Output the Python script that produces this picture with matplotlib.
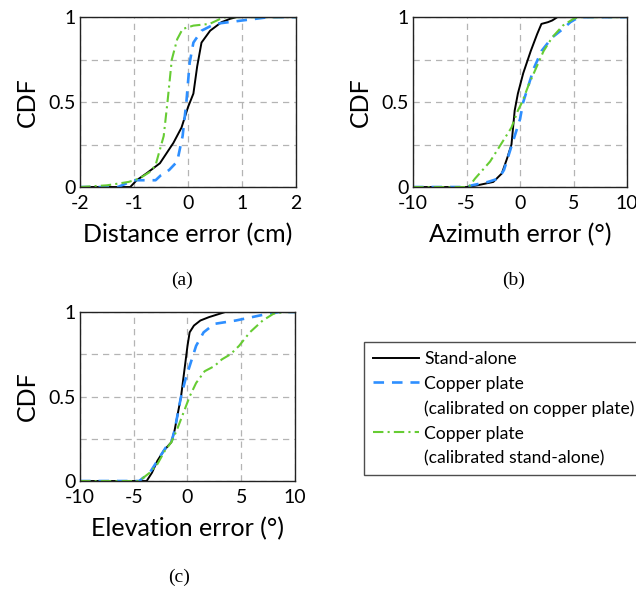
import matplotlib
matplotlib.use("Agg")
import matplotlib.pyplot as plt
from matplotlib.lines import Line2D
from matplotlib.ticker import MultipleLocator, FuncFormatter

plt.rcParams['font.family'] = ['Lato', 'DejaVu Sans']

# (a) distance error, cm
dist_alone_x = [-2.0, -1.07, -0.95, -0.77, -0.52, -0.27, -0.12, 0.0, 0.1, 0.17, 0.25, 0.41, 0.62, 0.78, 0.9, 2.0]
dist_alone_y = [0.0, 0.0, 0.04, 0.08, 0.14, 0.26, 0.35, 0.47, 0.55, 0.71, 0.85, 0.92, 0.97, 0.99, 1.0, 1.0]
dist_cu_x = [-2.0, -1.3, -1.0, -0.6, -0.5, -0.35, -0.2, -0.1, -0.03, 0.03, 0.1, 0.25, 0.5, 1.0, 1.5, 2.0]
dist_cu_y = [0.0, 0.0, 0.04, 0.04, 0.07, 0.1, 0.15, 0.3, 0.5, 0.73, 0.85, 0.92, 0.96, 0.98, 1.0, 1.0]
dist_cs_x = [-2.0, -1.5, -1.1, -0.9, -0.7, -0.6, -0.45, -0.38, -0.3, -0.2, -0.1, 0.1, 0.4, 0.6, 0.7, 2.0]
dist_cs_y = [0.0, 0.01, 0.03, 0.05, 0.09, 0.13, 0.3, 0.5, 0.75, 0.87, 0.93, 0.95, 0.96, 0.99, 1.0, 1.0]

# (b) azimuth error, degrees
az_alone_x = [-10, -5.0, -4.0, -2.5, -1.7, -1.2, -0.8, -0.5, -0.2, 0.3, 1.0, 1.6, 2.0, 2.6, 3.0, 3.5, 10]
az_alone_y = [0.0, 0.0, 0.01, 0.03, 0.08, 0.17, 0.25, 0.45, 0.55, 0.67, 0.8, 0.9, 0.96, 0.97, 0.98, 1.0, 1.0]
az_cu_x = [-10, -5.0, -4.5, -3.0, -2.0, -1.5, -1.0, -0.5, 0.0, 0.3, 0.8, 1.3, 2.0, 3.0, 4.0, 4.7, 5.5, 10]
az_cu_y = [0.0, 0.0, 0.01, 0.03, 0.05, 0.1, 0.2, 0.3, 0.4, 0.5, 0.6, 0.7, 0.8, 0.88, 0.93, 0.97, 1.0, 1.0]
az_cs_x = [-10, -4.8, -4.2, -2.8, -1.8, -0.8, -0.2, 0.2, 0.8, 1.5, 2.2, 3.0, 4.0, 5.0, 5.5, 10]
az_cs_y = [0.0, 0.0, 0.05, 0.15, 0.25, 0.35, 0.45, 0.5, 0.6, 0.7, 0.8, 0.88, 0.95, 0.99, 1.0, 1.0]

# (c) elevation error, degrees
el_alone_x = [-10, -3.8, -3.3, -2.8, -2.2, -1.5, -1.2, -0.9, -0.6, -0.4, -0.2, 0.0, 0.2, 0.6, 1.2, 2.0, 3.0, 3.5, 10]
el_alone_y = [0.0, 0.0, 0.05, 0.12, 0.18, 0.23, 0.3, 0.4, 0.5, 0.6, 0.7, 0.8, 0.88, 0.92, 0.95, 0.97, 0.99, 1.0, 1.0]
el_cu_x = [-10, -4.5, -3.5, -2.8, -2.0, -1.5, -1.2, -0.9, -0.6, -0.4, -0.2, 0.3, 0.8, 1.5, 2.5, 3.5, 4.5, 6.0, 7.5, 8.5, 10]
el_cu_y = [0.0, 0.0, 0.05, 0.12, 0.2, 0.23, 0.3, 0.4, 0.5, 0.55, 0.6, 0.7, 0.8, 0.88, 0.93, 0.94, 0.95, 0.97, 0.99, 1.0, 1.0]
el_cs_x = [-10, -4.5, -3.5, -2.8, -2.1, -1.5, -1.0, -0.4, 0.2, 0.8, 1.6, 2.5, 3.2, 4.0, 4.8, 5.8, 7.0, 8.0, 9.0, 10]
el_cs_y = [0.0, 0.0, 0.05, 0.1, 0.18, 0.23, 0.3, 0.4, 0.5, 0.58, 0.65, 0.68, 0.72, 0.75, 0.8, 0.88, 0.95, 0.99, 1.0, 1.0]

labels = ["Stand-alone", "Copper plate", "(calibrated on copper plate)",
          "Copper plate", "(calibrated stand-alone)"]

BLUE = "#2e8fff"
GREEN = "#66cc33"
styles = [
    dict(color="black", lw=1.4, ls="-"),
    dict(color=BLUE, lw=1.9, ls=(0, (4, 3))),
    dict(color=GREEN, lw=1.5, ls=(0, (5, 2, 1, 2))),
]

fig = plt.figure(figsize=(6.36, 5.90), dpi=100)

panels = [
    ([0.1258, 0.683, 0.3396, 0.288], (-2, 2), 1, "Distance error (cm)",
     [(dist_alone_x, dist_alone_y), (dist_cu_x, dist_cu_y), (dist_cs_x, dist_cs_y)],
     "(a)", (0.286, 0.524)),
    ([0.6494, 0.683, 0.3365, 0.288], (-10, 10), 5, "Azimuth error (°)",
     [(az_alone_x, az_alone_y), (az_cu_x, az_cu_y), (az_cs_x, az_cs_y)],
     "(b)", (0.808, 0.524)),
    ([0.1258, 0.1847, 0.338, 0.2864], (-10, 10), 5, "Elevation error (°)",
     [(el_alone_x, el_alone_y), (el_cu_x, el_cu_y), (el_cs_x, el_cs_y)],
     "(c)", (0.281, 0.022)),
]

fmt = FuncFormatter(lambda v, p: "%g" % v)

for rect, xlim, xstep, xlabel, series, tag, tagpos in panels:
    ax = fig.add_axes(rect)
    for (xs, ys), st in zip(series, styles):
        ax.plot(xs, ys, **st)
    ax.set_xlim(*xlim)
    ax.set_ylim(0, 1)
    ax.xaxis.set_major_locator(MultipleLocator(xstep))
    ax.yaxis.set_major_locator(MultipleLocator(0.5))
    ax.yaxis.set_minor_locator(MultipleLocator(0.25))
    ax.xaxis.set_major_formatter(fmt)
    ax.yaxis.set_major_formatter(fmt)
    ax.grid(True, which="both", color="#b4b4b4", ls=(0, (5, 4)), lw=0.9)
    ax.tick_params(which="both", length=0, labelsize=14)
    ax.tick_params(axis="x", pad=6)
    ax.tick_params(axis="y", pad=3)
    for sp in ax.spines.values():
        sp.set_color("#222222")
        sp.set_linewidth(1.0)
    ax.set_xlabel(xlabel, fontsize=18, labelpad=8)
    ax.set_ylabel("CDF", fontsize=18, labelpad=7)
    fig.text(tagpos[0], tagpos[1], tag, ha="center", va="center",
             fontsize=14, family="Liberation Serif")

handles = [
    Line2D([], [], **styles[0]),
    Line2D([], [], **styles[1]),
    Line2D([], [], color="none"),
    Line2D([], [], **styles[2]),
    Line2D([], [], color="none"),
]
leg = fig.legend(handles, labels, loc="upper left", bbox_to_anchor=(0.5723, 0.4203),
                 frameon=True, fancybox=False, fontsize=12.6, handlelength=2.65,
                 handletextpad=0.3, labelspacing=0.5, borderpad=0.5,
                 borderaxespad=0)
leg.get_frame().set_edgecolor("#222222")
leg.get_frame().set_linewidth(1.0)

fig.savefig("out.png", dpi=100)
